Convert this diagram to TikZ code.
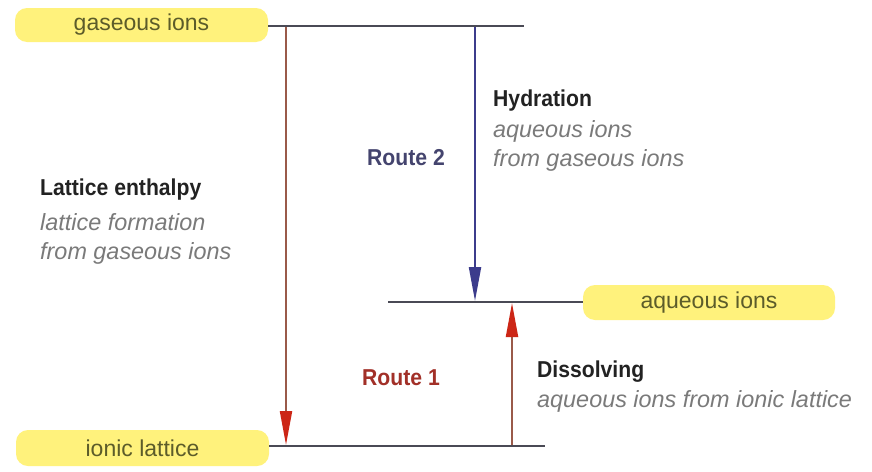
\documentclass[tikz,border=0pt]{standalone}
\usepackage{fontspec}
\setmainfont{Liberation Sans}
\newfontfamily\condbold{Liberation Sans Bold}[FakeStretch=0.92]
\usetikzlibrary{arrows.meta}
\definecolor{pill}{HTML}{FFF27C}
\definecolor{pilltext}{HTML}{5C5C2A}
\definecolor{lvl}{HTML}{4A4A55}
\definecolor{redarr}{HTML}{CC2616}
\definecolor{brownln}{HTML}{9A5A4A}
\definecolor{bluearr}{HTML}{3C3C8C}
\definecolor{graytxt}{HTML}{7A7A7A}
\definecolor{boldtxt}{HTML}{222222}
\definecolor{routetwo}{HTML}{44446E}
\definecolor{routeone}{HTML}{A23028}
\tikzset{
  pillbox/.style={fill=pill, rounded corners=12pt, inner sep=0pt, text=pilltext, font=\fontsize{23}{23}\selectfont},
  level/.style={draw=lvl, line width=2pt},
  arr/.style={line width=2pt},
  head/.style={font=\condbold\fontsize{23}{23}\selectfont, text=boldtxt, anchor=west, inner sep=0pt},
  sub/.style={font=\itshape\fontsize{23.4}{23}\selectfont, text=graytxt, anchor=west, inner sep=0pt},
  route/.style={font=\condbold\fontsize{23}{23}\selectfont, anchor=east, inner sep=0pt}
}
\begin{document}
\begin{tikzpicture}[x=1pt,y=-1pt]
\useasboundingbox[fill=white] (0,0) rectangle (872,471);
% pills
\node[pillbox, minimum width=253pt, minimum height=34pt] (gi) at (141.5,25) {gaseous ions};
\node[pillbox, minimum width=252pt, minimum height=35pt] (aq) at (709,302.5) {aqueous ions};
\node[pillbox, minimum width=253pt, minimum height=36pt] (il) at (142.5,448) {ionic lattice};
% level lines
\coordinate (topR) at (524,26);
\coordinate (aqL) at (388,302);
\coordinate (botR) at (545,446);
\draw[level] (gi.east |- topR) -- (topR);
\draw[level] (aqL) -- (aq.west |- aqL);
\draw[level] (il.east |- botR) -- (botR);
% arrows
\coordinate (r1s) at (286,27);
\coordinate (r1e) at (286,445);
\coordinate (bs) at (475,27);
\coordinate (be) at (475,301);
\coordinate (us) at (512,445);
\coordinate (ue) at (512,303);
\draw[arr, draw=brownln, -{Triangle[length=34pt,width=12pt,color=redarr,fill=redarr]}] (r1s) -- (r1e);
\draw[arr, draw=bluearr, -{Triangle[length=34pt,width=12pt,fill=bluearr]}] (bs) -- (be);
\draw[arr, draw=brownln, -{Triangle[length=34pt,width=12pt,color=redarr,fill=redarr]}] (us) -- (ue);
% texts
\node[head] (hyd) at (493,101) {Hydration};
\node[sub] (hyd1) at (493,131) {aqueous ions};
\node[sub] (hyd2) at (493,160) {from gaseous ions};
\node[route, text=routetwo] (rt2) at (445,158) {Route 2};
\node[head] (lat) at (40,190) {Lattice enthalpy};
\node[sub] (lat1) at (40,222) {lattice formation};
\node[sub] (lat2) at (40,253) {from gaseous ions};
\node[route, text=routeone] (rt1) at (440,378) {Route 1};
\node[head] (dis) at (537,372) {Dissolving};
\node[sub] (dis1) at (537,401) {aqueous ions from ionic lattice};
\end{tikzpicture}
\end{document}
